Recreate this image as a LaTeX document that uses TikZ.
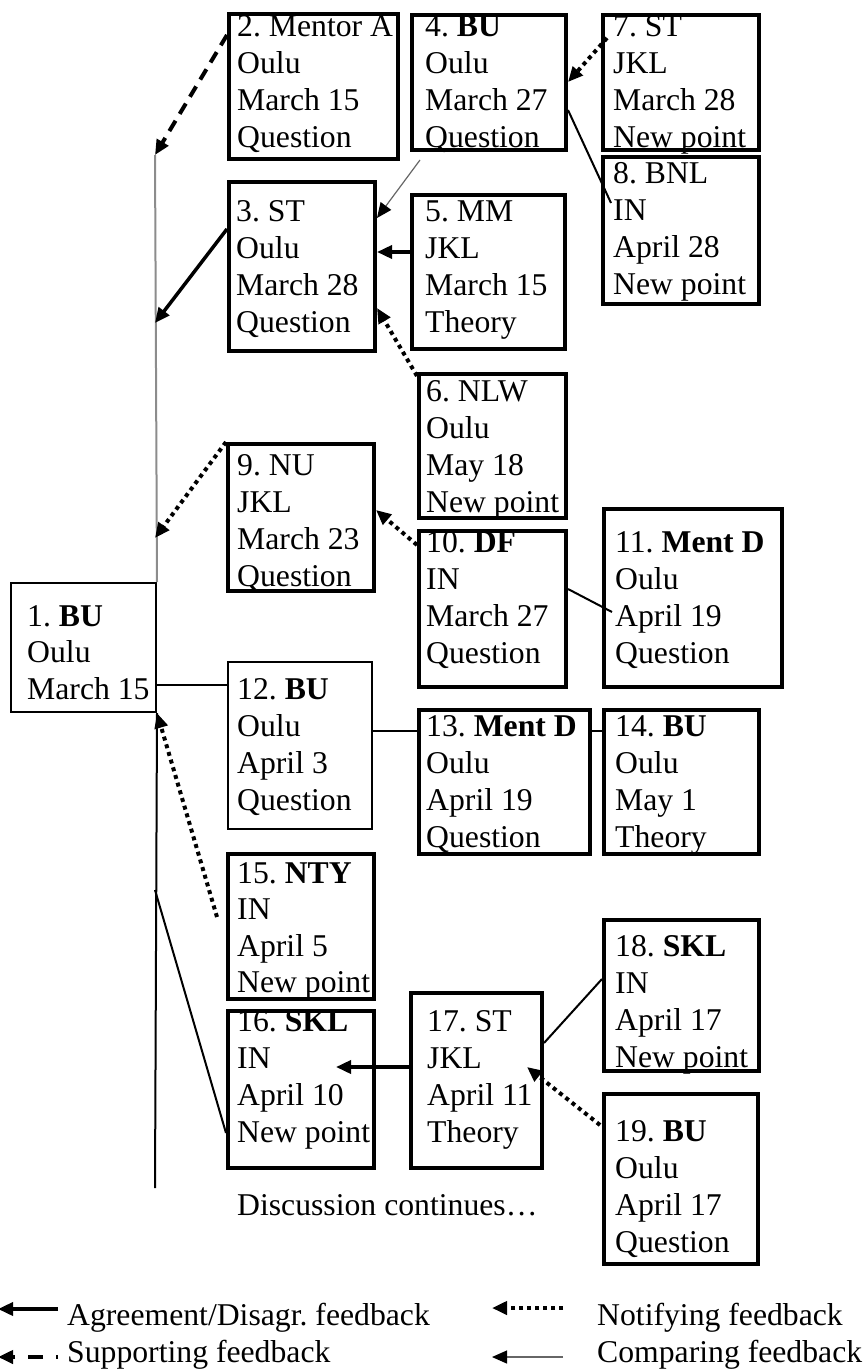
\documentclass[tikz,border=0pt]{standalone}
\usepackage{fontspec}
\setmainfont{Liberation Serif}
\usetikzlibrary{arrows.meta}
\frenchspacing
\begin{document}
\begin{tikzpicture}[x=1pt,y=-1pt,
  tbox/.style={draw, line width=4pt, inner sep=0pt, anchor=north west},
  nbox/.style={draw, line width=2pt, inner sep=0pt, anchor=north west},
  txt/.style={anchor=north west, inner sep=0pt, align=left, font=\fontsize{31.7}{37}\selectfont\frenchspacing},
  txtb/.style={txt, font=\fontsize{31.7}{36.3}\selectfont\frenchspacing},
  lbl/.style={anchor=base west, inner sep=0pt, font=\fontsize{31.7}{37}\selectfont\frenchspacing},
  fbtip/.style={-{Triangle[length=15pt,width=13pt,color=black]}},
  agree/.style={fbtip, line width=3.5pt},
  support/.style={fbtip, line width=4pt, dash pattern=on 12pt off 8pt},
  notify/.style={fbtip, line width=4pt, dash pattern=on 4pt off 4pt},
  compare/.style={fbtip, line width=1.2pt, draw=black!60},
  link/.style={line width=2pt},
  axisgray/.style={line width=2pt, draw=black!45},
  axisblack/.style={line width=2pt},
]
\useasboundingbox (0,0) rectangle (867,1372);

% ---- boxes ----
\node[nbox, minimum width=145pt, minimum height=129pt] (b1) at (10,582) {};
\node[tbox, minimum width=169pt, minimum height=145pt] (b2) at (227,12) {};
\node[tbox, minimum width=146pt, minimum height=169pt] (b3) at (227,180) {};
\node[tbox, minimum width=154pt, minimum height=135pt] (b4) at (410,13) {};
\node[tbox, minimum width=153pt, minimum height=154pt] (b5) at (410,193) {};
\node[tbox, minimum width=147pt, minimum height=144pt] (b6) at (417,372) {};
\node[tbox, minimum width=156pt, minimum height=135pt] (b7) at (601,13) {};
\node[tbox, minimum width=156pt, minimum height=147pt] (b8) at (601,155) {};
\node[tbox, minimum width=146pt, minimum height=147pt] (b9) at (226,442) {};
\node[tbox, minimum width=147pt, minimum height=156pt] (b10) at (417,529) {};
\node[tbox, minimum width=178pt, minimum height=178pt] (b11) at (602,507) {};
\node[nbox, minimum width=144pt, minimum height=167pt] (b12) at (227,661) {};
\node[tbox, minimum width=171pt, minimum height=144pt] (b13) at (417,708) {};
\node[tbox, minimum width=155pt, minimum height=144pt] (b14) at (602,708) {};
\node[tbox, minimum width=146pt, minimum height=145pt] (b15) at (226,852) {};
\node[tbox, minimum width=146pt, minimum height=157pt] (b16) at (226,1009) {};
\node[tbox, minimum width=131pt, minimum height=175pt] (b17) at (409,991) {};
\node[tbox, minimum width=155pt, minimum height=151pt] (b18) at (602,918) {};
\node[tbox, minimum width=154pt, minimum height=170pt] (b19) at (602,1092) {};

% ---- box texts ----
\node[txtb] (t1) at (27,605.5) {1. \textbf{BU}\\Oulu\\March 15};
\node[txt] (t2) at (237,15.5) {2. Mentor A\\Oulu\\March 15\\Question};
\node[txt] (t3) at (236,200.5) {3. ST\\Oulu\\March 28\\Question};
\node[txt] (t4) at (425,15.5) {4. \textbf{BU}\\Oulu\\March 27\\Question};
\node[txt] (t5) at (425,200.5) {5. MM\\JKL\\March 15\\Theory};
\node[txt] (t6) at (426,380.5) {6. NLW\\Oulu\\May 18\\New point};
\node[txt] (t7) at (613,15.5) {7. ST\\JKL\\March 28\\New point};
\node[txt] (t8) at (613,162.5) {8. BNL\\IN\\April 28\\New point};
\node[txt] (t9) at (237,454.5) {9. NU\\JKL\\March 23\\Question};
\node[txt] (t10) at (426,531.5) {10. \textbf{DF}\\IN\\March 27\\Question};
\node[txt] (t11) at (615,531.5) {11. \textbf{Ment D}\\Oulu\\April 19\\Question};
\node[txt] (t12) at (237,678.5) {12. \textbf{BU}\\Oulu\\April 3\\Question};
\node[txt] (t13) at (426,715.5) {13. \textbf{Ment D}\\Oulu\\April 19\\Question};
\node[txt] (t14) at (615,715.5) {14. \textbf{BU}\\Oulu\\May 1\\Theory};
\node[txtb] (t15) at (237,862.5) {15. \textbf{NTY}\\IN\\April 5\\New point};
\node[txt] (t16) at (237,1010.5) {16. \textbf{SKL}\\IN\\April 10\\New point};
\node[txt] (t17) at (427,1010.5) {17. ST\\JKL\\April 11\\Theory};
\node[txt] (t18) at (615,935.5) {18. \textbf{SKL}\\IN\\April 17\\New point};
\node[txt] (t19) at (615,1120.5) {19. \textbf{BU}\\Oulu\\April 17\\Question};

\node[lbl] (cont) at (237,1215) {Discussion continues…};

% ---- time axis ----
\coordinate (vtop) at (155,155);
\coordinate (v2) at (155,323);
\coordinate (v3) at (155,538);
\coordinate (v4) at (155,890);
\coordinate (vbot) at (155,1188);
\draw[axisgray] (vtop) -- (b1.north east);
\draw[axisblack] (b1.south east) -- (vbot);

% ---- connectors ----
\draw[support] ([yshift=-23pt]b2.north west) -- (vtop);
\draw[agree] ([yshift=-49pt]b3.north west) -- (v2);
\draw[notify] (b9.north west) -- (v3);
\coordinate (p112) at ([yshift=-24pt]b12.north west);
\draw[link] (p112) -- (p112 -| b1.east);
\draw[notify] ([xshift=-9pt,yshift=-65pt]b15.north west) -- (b1.south east);
\draw[link] ([yshift=-124pt]b16.north west) -- (v4);
\draw[compare] ([xshift=10pt,yshift=-8pt]b4.south west) -- ([yshift=-38pt]b3.north east);
\coordinate (p53) at ([yshift=-59pt]b5.north west);
\draw[agree] (p53) -- (p53 -| b3.east);
\draw[notify] ([yshift=-4pt]b6.north west) -- ([yshift=-128pt]b3.north east);
\draw[notify] ([xshift=6pt,yshift=-25pt]b7.north west) -- ([yshift=-69pt]b4.north east);
\draw[link] ([yshift=-97pt]b4.north east) -- ([xshift=10pt,yshift=-48pt]b8.north west);
\draw[notify] ([yshift=-16pt]b10.north west) -- ([yshift=-68pt]b9.north east);
\draw[link] ([yshift=-60pt]b10.north east) -- ([xshift=10pt,yshift=-105pt]b11.north west);
\coordinate (p1213) at ([yshift=-23pt]b13.north west);
\draw[link] (p1213) -- (p1213 -| b12.east);
\coordinate (p1314) at ([yshift=-23pt]b14.north west);
\draw[link] (p1314) -- (p1314 -| b13.east);
\coordinate (p1716) at ([yshift=-76pt]b17.north west);
\draw[agree] (p1716) -- ([xshift=-40pt,yshift=-58pt]b16.north east);
\draw[link] ([yshift=-52pt]b17.north east) -- ([yshift=-61pt]b18.north west);
\draw[notify] ([xshift=-2pt,yshift=-33pt]b19.north west) -- ([xshift=-17pt,yshift=-76pt]b17.north east);

% ---- legend ----
\coordinate (la1) at (58,1309);   \coordinate (la2) at (-2,1309);
\coordinate (ls1) at (58,1357);   \coordinate (ls2) at (-2,1357);
\coordinate (ln1) at (563,1308);  \coordinate (ln2) at (492,1308);
\coordinate (lc1) at (563,1357);  \coordinate (lc2) at (492,1357);
\draw[agree] (la1) -- (la2);
\draw[support, dash pattern=on 15pt off 13pt, dash phase=13pt] (ls1) -- (ls2);
\draw[notify] (ln1) -- (ln2);
\draw[compare] (lc1) -- (lc2);
\node[lbl] (lg1) at (67,1325) {Agreement/Disagr. feedback};
\node[lbl] (lg2) at (67,1362) {Supporting feedback};
\node[lbl] (lg3) at (597,1325) {Notifying feedback};
\node[lbl] (lg4) at (597,1362) {Comparing feedback};
\end{tikzpicture}
\end{document}
